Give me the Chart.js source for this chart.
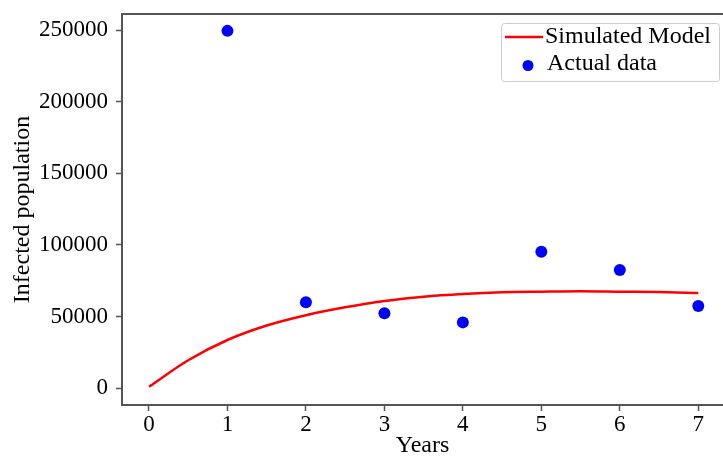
<!DOCTYPE html>
<html><head><meta charset="utf-8">
<script src="https://cdn.jsdelivr.net/npm/chart.js@4/dist/chart.umd.min.js"></script>
<style>html,body{margin:0;padding:0;background:#fff}</style>
</head><body>
<canvas id="c" width="723" height="458"></canvas>
<script>
const years = [1, 2, 3, 4, 5, 6, 7];
const actualData = [249400, 60000, 52300, 46000, 95300, 82500, 57400];
const modelYears = [0, 0.5, 1, 1.5, 2, 2.5, 3, 3.5, 4, 4.5, 5, 5.5, 6, 6.5, 7];
const modelValues = [1100, 19600, 33700, 43800, 51000, 56500, 60900, 63900, 65800, 67000, 67400, 67700, 67400, 67200, 66500];
const xTicks = [0, 1, 2, 3, 4, 5, 6, 7];
const yTicks = [0, 50000, 100000, 150000, 200000, 250000];
const seriesNames = ['Simulated Model', 'Actual data'];

const FONT = "'Liberation Serif', 'Times New Roman', serif";
const AXIS = '#555555';

const frameLegend = {
  id: 'frameLegend',
  afterDraw(chart) {
    const ctx = chart.ctx, a = chart.chartArea;
    ctx.save();
    ctx.strokeStyle = AXIS; ctx.lineWidth = 2;
    ctx.beginPath(); ctx.moveTo(a.left - 1, a.top); ctx.lineTo(a.right, a.top); ctx.stroke();
    const bx = 501, by = 23, bw = 218, bh = 58;
    ctx.fillStyle = '#ffffff';
    ctx.strokeStyle = '#cccccc'; ctx.lineWidth = 1;
    ctx.beginPath();
    if (ctx.roundRect) ctx.roundRect(bx + 0.5, by + 0.5, bw, bh, 3); else ctx.rect(bx + 0.5, by + 0.5, bw, bh);
    ctx.fill(); ctx.stroke();
    ctx.strokeStyle = '#ff0000'; ctx.lineWidth = 2.5;
    ctx.beginPath(); ctx.moveTo(505, 37); ctx.lineTo(543, 37); ctx.stroke();
    ctx.fillStyle = '#0000ff';
    ctx.beginPath(); ctx.arc(528, 65.5, 5.5, 0, Math.PI * 2); ctx.fill();
    ctx.fillStyle = '#000000';
    ctx.font = '24px ' + FONT;
    ctx.textBaseline = 'middle'; ctx.textAlign = 'left';
    ctx.fillText(seriesNames[0], 545, 37);
    ctx.fillText(seriesNames[1], 547, 64);
    ctx.restore();
  }
};

function noPad(s) { s.paddingTop = 0; s.paddingBottom = 0; s.paddingLeft = 0; s.paddingRight = 0; }

new Chart(document.getElementById('c'), {
  type: 'scatter',
  data: {
    datasets: [
      {
        label: seriesNames[0],
        data: modelYears.map((x, i) => ({ x: x, y: modelValues[i] })),
        showLine: true,
        borderColor: '#ff0000',
        borderWidth: 2.5,
        pointRadius: 0,
        cubicInterpolationMode: 'monotone',
        order: 2
      },
      {
        label: seriesNames[1],
        data: years.map((x, i) => ({ x: x, y: actualData[i] })),
        showLine: false,
        backgroundColor: '#0000ff',
        borderColor: '#0000ff',
        pointRadius: 6,
        pointBorderWidth: 0,
        order: 1
      }
    ]
  },
  options: {
    responsive: false,
    animation: false,
    devicePixelRatio: 1,
    layout: { autoPadding: false, padding: { top: 14, right: 0, left: 0, bottom: 0 } },
    plugins: { legend: { display: false }, tooltip: { enabled: false } },
    scales: {
      x: {
        type: 'linear',
        min: -0.344,
        max: 7.315,
        afterBuildTicks: s => { s.ticks = xTicks.map(v => ({ value: v })); },
        afterFit: s => { s.height = 53; noPad(s); },
        grid: { drawOnChartArea: false, drawTicks: true, tickLength: 6, tickColor: AXIS, tickWidth: 1.5 },
        border: { display: true, color: AXIS, width: 2 },
        ticks: { color: '#000', font: { family: FONT, size: 23 }, padding: 0, maxRotation: 0, autoSkip: false },
        title: { display: true, text: 'Years', color: '#000', font: { family: FONT, size: 24, lineHeight: 1 }, padding: { top: 0, bottom: 0 } }
      },
      y: {
        type: 'linear',
        min: -11650,
        max: 261170,
        afterBuildTicks: s => { s.ticks = yTicks.map(v => ({ value: v })); },
        afterFit: s => { s.width = 122; noPad(s); },
        grid: { drawOnChartArea: false, drawTicks: true, tickLength: 6, tickColor: AXIS, tickWidth: 1.5 },
        border: { display: true, color: AXIS, width: 2 },
        ticks: { color: '#000', font: { family: FONT, size: 23 }, padding: 8, callback: v => String(v) },
        title: { display: true, text: 'Infected population', color: '#000', font: { family: FONT, size: 24, lineHeight: 1 }, padding: { top: 11, bottom: 0 } }
      }
    }
  },
  plugins: [frameLegend]
});
</script>
</body></html>
